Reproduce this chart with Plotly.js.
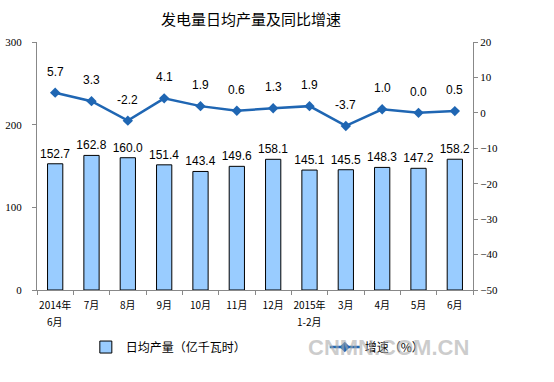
<!DOCTYPE html>
<html><head><meta charset="utf-8">
<script src="https://cdn.plot.ly/plotly-3.0.1.min.js"></script>
<style>body{margin:0;background:#fff}#c{width:554px;height:382px}</style>
</head><body><div id="c"></div>
<script>
var categories = ["2014年6月","7月","8月","9月","10月","11月","12月","2015年1-2月","3月","4月","5月","6月"];
var tickLine1 = ["2014年","7月","8月","9月","10月","11月","12月","2015年","3月","4月","5月","6月"];
var tickLine2 = ["6月","","","","","","","1-2月","","","",""];
var output = [152.7,162.8,160.0,151.4,143.4,149.6,158.1,145.1,145.5,148.3,147.2,158.2];
var growth = [5.7,3.3,-2.2,4.1,1.9,0.6,1.3,1.9,-3.7,1.0,0.0,0.5];
var barName = "日均产量（亿千瓦时）";
var lineName = "增速（%）";

var numFont = {family:"Liberation Sans, Arial, sans-serif", size:12, color:"#000"};
var cjk = "Noto Sans CJK SC, sans-serif";

var bars = {
  type:"bar", x:categories, y:output, name:barName, legend:"legend",
  marker:{color:"#99CCFF", line:{color:"#000", width:1}},
  width:0.42,
  text:output.map(function(v){return v.toFixed(1);}),
  textposition:"outside", cliponaxis:false, constraintext:"none",
  textfont:numFont, hoverinfo:"none"
};
var line = {
  type:"scatter", mode:"lines+markers", x:categories, y:growth, yaxis:"y2", name:lineName,
  legend:"legend2",
  line:{color:"#1F66B3", width:2.5},
  marker:{symbol:"diamond", size:8, color:"#1F66B3"},
  hoverinfo:"none"
};
var ann = growth.map(function(v,i){
  return {x:categories[i], y:v, xref:"x", yref:"y2", text:v.toFixed(1), showarrow:false,
    yshift:21, font:numFont};
});
tickLine2.forEach(function(t,i){
  if(t) ann.push({x:categories[i], y:0, xref:"x", yref:"paper", text:t, showarrow:false,
    yanchor:"middle", yshift:-31, font:{family:cjk, size:10, color:"#000"}});
});
ann.push({text:"发电量日均产量及同比增速", xref:"paper", yref:"paper", x:0.49, y:1, yshift:36,
  showarrow:false, font:{family:cjk, size:15, color:"#000"}});
ann.push({text:"<b>CNMN.COM.CN</b>", xref:"paper", yref:"paper", x:0.995, y:-0.23,
  showarrow:false, xanchor:"right", yanchor:"middle",
  font:{family:"Liberation Sans, Arial, sans-serif", size:22, color:"rgba(170,170,170,0.6)"}});

var legendFont = {family:cjk, size:12, color:"#000"};
var layout = {
  width:554, height:382,
  margin:{l:37, r:81, t:42, b:92},
  paper_bgcolor:"#fff", plot_bgcolor:"#fff",
  showlegend:true,
  legend:{orientation:"h", x:0.112, y:-0.23, xanchor:"left", yanchor:"middle",
    font:legendFont, bgcolor:"rgba(0,0,0,0)"},
  legend2:{orientation:"h", x:0.66, y:-0.23, xanchor:"left", yanchor:"middle",
    font:legendFont, bgcolor:"rgba(0,0,0,0)"},
  xaxis:{type:"category", showline:true, linecolor:"#888", linewidth:1,
    ticks:"outside", tickson:"boundaries", ticklen:4, tickcolor:"#888", tickangle:0,
    tickmode:"array", tickvals:categories, ticktext:tickLine1,
    tickfont:{family:cjk, size:10, color:"#000"}, showgrid:false, zeroline:false,
    ticklabelstandoff:6, range:[-0.5,11.5], fixedrange:true},
  yaxis:{range:[0,300], dtick:100, showline:true, linecolor:"#888", ticks:"outside",
    ticklen:4, tickcolor:"#888", showgrid:false, zeroline:false,
    tickfont:{family:"Liberation Serif, serif", size:11, color:"#000"}, ticklabelstandoff:8},
  yaxis2:{overlaying:"y", side:"right", range:[-50,20], dtick:10, showline:true,
    linecolor:"#888", ticks:"outside", ticklen:4, tickcolor:"#888", showgrid:false,
    zeroline:false, tickfont:{family:"Liberation Serif, serif", size:11, color:"#000"}},
  annotations:ann
};
Plotly.newPlot("c",[bars,line],layout,{displayModeBar:false, staticPlot:true});
</script></body></html>
